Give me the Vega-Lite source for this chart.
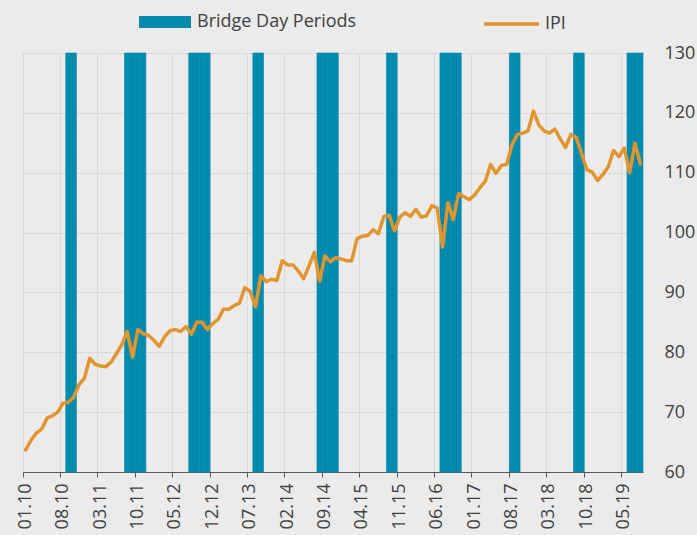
{
  "$schema": "https://vega.github.io/schema/vega-lite/v6.json",
  "width": 620,
  "height": 419,
  "autosize": {"type": "none"},
  "padding": {"left": 23, "top": 53, "right": 54, "bottom": 63},
  "background": "#ebebeb",
  "config": {"view": {"stroke": null}, "font": "Open Sans"},
  "data": {"values": [
    {"month":"01.10","ipi":63.7,"bridge":0},{"month":"02.10","ipi":65.3,"bridge":0},{"month":"03.10","ipi":66.5,"bridge":0},{"month":"04.10","ipi":67.2,"bridge":0},
    {"month":"05.10","ipi":69.0,"bridge":0},{"month":"06.10","ipi":69.4,"bridge":0},{"month":"07.10","ipi":70.0,"bridge":0},{"month":"08.10","ipi":71.5,"bridge":0},
    {"month":"09.10","ipi":71.7,"bridge":1},{"month":"10.10","ipi":72.5,"bridge":1},{"month":"11.10","ipi":74.6,"bridge":0},{"month":"12.10","ipi":75.7,"bridge":0},
    {"month":"01.11","ipi":79.0,"bridge":0},{"month":"02.11","ipi":78.0,"bridge":0},{"month":"03.11","ipi":77.7,"bridge":0},{"month":"04.11","ipi":77.6,"bridge":0},
    {"month":"05.11","ipi":78.4,"bridge":0},{"month":"06.11","ipi":79.8,"bridge":0},{"month":"07.11","ipi":81.3,"bridge":0},{"month":"08.11","ipi":83.5,"bridge":1},
    {"month":"09.11","ipi":79.2,"bridge":1},{"month":"10.11","ipi":83.8,"bridge":1},{"month":"11.11","ipi":83.1,"bridge":1},{"month":"12.11","ipi":82.8,"bridge":0},
    {"month":"01.12","ipi":82.0,"bridge":0},{"month":"02.12","ipi":81.0,"bridge":0},{"month":"03.12","ipi":82.6,"bridge":0},{"month":"04.12","ipi":83.6,"bridge":0},
    {"month":"05.12","ipi":83.8,"bridge":0},{"month":"06.12","ipi":83.5,"bridge":0},{"month":"07.12","ipi":84.3,"bridge":0},{"month":"08.12","ipi":83.0,"bridge":1},
    {"month":"09.12","ipi":85.0,"bridge":1},{"month":"10.12","ipi":85.0,"bridge":1},{"month":"11.12","ipi":83.8,"bridge":1},{"month":"12.12","ipi":84.8,"bridge":0},
    {"month":"01.13","ipi":85.5,"bridge":0},{"month":"02.13","ipi":87.2,"bridge":0},{"month":"03.13","ipi":87.2,"bridge":0},{"month":"04.13","ipi":87.8,"bridge":0},
    {"month":"05.13","ipi":88.2,"bridge":0},{"month":"06.13","ipi":90.8,"bridge":0},{"month":"07.13","ipi":90.2,"bridge":0},{"month":"08.13","ipi":87.6,"bridge":1},
    {"month":"09.13","ipi":92.8,"bridge":1},{"month":"10.13","ipi":91.8,"bridge":0},{"month":"11.13","ipi":92.2,"bridge":0},{"month":"12.13","ipi":92.0,"bridge":0},
    {"month":"01.14","ipi":95.3,"bridge":0},{"month":"02.14","ipi":94.6,"bridge":0},{"month":"03.14","ipi":94.6,"bridge":0},{"month":"04.14","ipi":93.6,"bridge":0},
    {"month":"05.14","ipi":92.3,"bridge":0},{"month":"06.14","ipi":94.4,"bridge":0},{"month":"07.14","ipi":96.7,"bridge":0},{"month":"08.14","ipi":91.9,"bridge":1},
    {"month":"09.14","ipi":96.1,"bridge":1},{"month":"10.14","ipi":95.1,"bridge":1},{"month":"11.14","ipi":95.8,"bridge":1},{"month":"12.14","ipi":95.6,"bridge":0},
    {"month":"01.15","ipi":95.3,"bridge":0},{"month":"02.15","ipi":95.3,"bridge":0},{"month":"03.15","ipi":99.0,"bridge":0},{"month":"04.15","ipi":99.4,"bridge":0},
    {"month":"05.15","ipi":99.5,"bridge":0},{"month":"06.15","ipi":100.5,"bridge":0},{"month":"07.15","ipi":99.8,"bridge":0},{"month":"08.15","ipi":102.7,"bridge":0},
    {"month":"09.15","ipi":102.9,"bridge":1},{"month":"10.15","ipi":100.3,"bridge":1},{"month":"11.15","ipi":102.6,"bridge":0},{"month":"12.15","ipi":103.3,"bridge":0},
    {"month":"01.16","ipi":102.7,"bridge":0},{"month":"02.16","ipi":103.9,"bridge":0},{"month":"03.16","ipi":102.6,"bridge":0},{"month":"04.16","ipi":102.8,"bridge":0},
    {"month":"05.16","ipi":104.5,"bridge":0},{"month":"06.16","ipi":104.1,"bridge":0},{"month":"07.16","ipi":97.6,"bridge":1},{"month":"08.16","ipi":105.0,"bridge":1},
    {"month":"09.16","ipi":102.2,"bridge":1},{"month":"10.16","ipi":106.5,"bridge":1},{"month":"11.16","ipi":106.0,"bridge":0},{"month":"12.16","ipi":105.5,"bridge":0},
    {"month":"01.17","ipi":106.3,"bridge":0},{"month":"02.17","ipi":107.5,"bridge":0},{"month":"03.17","ipi":108.6,"bridge":0},{"month":"04.17","ipi":111.4,"bridge":0},
    {"month":"05.17","ipi":109.9,"bridge":0},{"month":"06.17","ipi":111.2,"bridge":0},{"month":"07.17","ipi":111.4,"bridge":0},{"month":"08.17","ipi":114.7,"bridge":1},
    {"month":"09.17","ipi":116.4,"bridge":1},{"month":"10.17","ipi":116.6,"bridge":0},{"month":"11.17","ipi":117.0,"bridge":0},{"month":"12.17","ipi":120.3,"bridge":0},
    {"month":"01.18","ipi":118.0,"bridge":0},{"month":"02.18","ipi":117.0,"bridge":0},{"month":"03.18","ipi":116.6,"bridge":0},{"month":"04.18","ipi":117.3,"bridge":0},
    {"month":"05.18","ipi":115.7,"bridge":0},{"month":"06.18","ipi":114.2,"bridge":0},{"month":"07.18","ipi":116.4,"bridge":0},{"month":"08.18","ipi":115.9,"bridge":1},
    {"month":"09.18","ipi":113.2,"bridge":1},{"month":"10.18","ipi":110.5,"bridge":0},{"month":"11.18","ipi":110.1,"bridge":0},{"month":"12.18","ipi":108.7,"bridge":0},
    {"month":"01.19","ipi":109.7,"bridge":0},{"month":"02.19","ipi":111.0,"bridge":0},{"month":"03.19","ipi":113.7,"bridge":0},{"month":"04.19","ipi":112.7,"bridge":0},
    {"month":"05.19","ipi":114.1,"bridge":0},{"month":"06.19","ipi":110.0,"bridge":1},{"month":"07.19","ipi":114.9,"bridge":1},{"month":"08.19","ipi":111.5,"bridge":1}
  ]},
  "layer": [
    {
      "mark": {"type": "rect", "stroke": "#008aad", "strokeWidth": 0.6, "zindex": 1},
      "encoding": {
        "x": {
          "field": "month", "type": "ordinal", "sort": null,
          "scale": {"paddingInner": 0, "paddingOuter": 0},
          "axis": {
            "values": ["01.10","08.10","03.11","10.11","05.12","12.12","07.13","02.14","09.14","04.15","11.15","06.16","01.17","08.17","03.18","10.18","05.19"],
            "bandPosition": 0, "labelAngle": -90, "title": null, "grid": true, "zindex": 0,
            "gridColor": "#d9d9d9", "gridWidth": 1, "domainColor": "#595959", "tickColor": "#595959",
            "tickSize": 5, "labelFontSize": 18, "labelColor": "#404040", "labelPadding": 6
          }
        },
        "opacity": {"field": "bridge", "type": "quantitative", "scale": null, "legend": null},
        "fill": {
          "datum": "Bridge Day Periods", "type": "nominal",
          "scale": {"range": ["#008aad"]},
          "legend": {
            "orient": "none", "legendX": 116, "legendY": -57, "title": null,
            "symbolType": "M-1,-0.23H1V0.23H-1Z", "symbolSize": 2704, "symbolStrokeWidth": 0,
            "labelFontSize": 18, "labelColor": "#404040", "labelOffset": 6
          }
        }
      }
    },
    {
      "mark": {"type": "line", "strokeWidth": 3.5, "strokeJoin": "round", "strokeCap": "round", "zindex": 2},
      "encoding": {
        "x": {"field": "month", "type": "ordinal", "sort": null},
        "y": {
          "field": "ipi", "type": "quantitative",
          "scale": {"domain": [60, 130], "nice": false, "zero": false},
          "axis": {
            "orient": "right", "values": [60, 70, 80, 90, 100, 110, 120, 130], "title": null, "zindex": 0,
            "domain": false, "ticks": false, "grid": true, "gridColor": "#d9d9d9",
            "labelFontSize": 18, "labelColor": "#404040", "labelPadding": 21
          }
        },
        "stroke": {
          "datum": "IPI", "type": "nominal",
          "scale": {"range": ["#e1952f"]},
          "legend": {
            "orient": "none", "legendX": 459, "legendY": -58.5, "title": null,
            "symbolType": "stroke", "symbolSize": 3025, "symbolStrokeWidth": 3.5,
            "labelFontSize": 18, "labelColor": "#404040", "labelOffset": 4
          }
        }
      }
    }
  ]
}
